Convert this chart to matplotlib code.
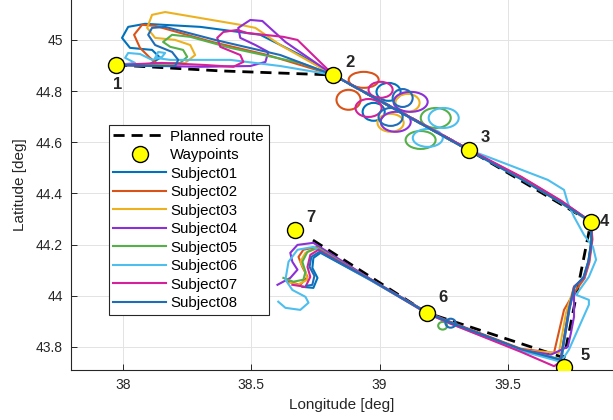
import matplotlib.pyplot as plt
from matplotlib.lines import Line2D
from matplotlib.patches import Ellipse

plt.rcParams['font.family'] = ['Liberation Sans', 'DejaVu Sans']

# waypoints and planned route
waypoint_ids = ['1', '2', '3', '4', '5', '6', '7']
waypoint_lon = [37.973, 38.820, 39.348, 39.824, 39.719, 39.184, 38.672]
waypoint_lat = [44.902, 44.863, 44.570, 44.289, 43.723, 43.934, 44.258]

route_lon = [37.973, 38.379, 38.820, 39.348, 39.824, 39.719, 39.184, 38.738]
route_lat = [44.902, 44.879, 44.863, 44.570, 44.289, 43.758, 43.934, 44.219]

subject_names = ['Subject01', 'Subject02', 'Subject03', 'Subject04',
                 'Subject05', 'Subject06', 'Subject07', 'Subject08']
subject_colors = ['#0072BD', '#D95319', '#EDB120', '#8B2FD6',
                  '#55B04A', '#4DBEEE', '#D4209A', '#1F6DB8']

# recorded tracks (lon, lat)
s01_lon = [37.973, 38.105, 38.145, 38.113, 38.027, 37.996, 38.020, 38.086, 38.301, 38.535, 38.691,
           38.820, 39.348, 39.551, 39.707, 39.822, 39.826, 39.814, 39.795, 39.760, 39.740, 39.717, 39.709,
           39.551, 39.277, 39.186, 38.965,
           38.770, 38.742, 38.738, 38.758, 38.742, 38.699]
s01_lat = [44.902, 44.906, 44.930, 44.961, 44.969, 45.008, 45.051, 45.063, 45.051, 45.020, 44.941,
           44.863, 44.572, 44.459, 44.363, 44.289, 44.215, 44.135, 44.072, 44.035, 43.945, 43.805, 43.748,
           43.791, 43.895, 43.934, 44.061,
           44.168, 44.148, 44.109, 44.070, 44.031, 44.035]
s01_loops = [(39.035, 44.797, 0.094, 0.070), (38.977, 44.719, 0.086, 0.070)]

s02_lon = [37.973, 38.145, 38.105, 38.066, 38.043, 38.074, 38.125, 38.348, 38.563,
           38.820, 39.348, 39.553, 39.709, 39.824, 39.830, 39.818, 39.799, 39.758, 39.719, 39.680,
           39.551, 39.277, 39.184, 38.963,
           38.758, 38.703, 38.684, 38.699, 38.719, 38.691, 38.645]
s02_lat = [44.902, 44.898, 44.930, 44.969, 45.020, 45.059, 45.055, 44.992, 44.941,
           44.863, 44.568, 44.463, 44.369, 44.291, 44.221, 44.131, 44.068, 44.012, 43.945, 43.777,
           43.793, 43.898, 43.936, 44.066,
           44.191, 44.180, 44.152, 44.113, 44.074, 44.043, 44.055]
s02_loops = [(38.938, 44.844, 0.117, 0.0625), (38.879, 44.766, 0.094, 0.078)]

s03_lon = [37.973, 38.105, 38.242, 38.281, 38.262, 38.203, 38.125, 38.094, 38.113, 38.164, 38.457, 38.516, 38.613,
           38.820, 39.348, 39.549, 39.705, 39.824, 39.828, 39.816, 39.797, 39.758, 39.727, 39.699,
           39.551, 39.277, 39.184, 38.965,
           38.762, 38.711, 38.691, 38.711, 38.719, 38.680, 38.652]
s03_lat = [44.902, 44.902, 44.910, 44.941, 44.980, 45.000, 45.008, 45.047, 45.098, 45.109, 45.059, 45.047, 44.980,
           44.863, 44.570, 44.459, 44.365, 44.287, 44.217, 44.133, 44.070, 44.035, 43.934, 43.777,
           43.787, 43.893, 43.932, 44.063,
           44.188, 44.168, 44.133, 44.094, 44.063, 44.043, 44.051]
s03_loops = [(39.109, 44.754, 0.094, 0.070), (39.043, 44.676, 0.102, 0.070)]

s04_lon = [37.973, 38.301, 38.496, 38.555, 38.566, 38.516, 38.457, 38.449, 38.496, 38.543, 38.633,
           38.820, 39.348, 39.551, 39.707, 39.824, 39.828, 39.816, 39.797, 39.758, 39.758, 39.746, 39.734, 39.668,
           39.551, 39.277, 39.184, 38.965,
           38.742, 38.680, 38.652, 38.660, 38.680, 38.652, 38.602]
s04_lat = [44.902, 44.895, 44.898, 44.914, 44.953, 44.980, 45.008, 45.047, 45.078, 45.074, 44.992,
           44.863, 44.570, 44.463, 44.369, 44.289, 44.219, 44.133, 44.070, 44.035, 43.918, 43.855, 43.801, 43.770,
           43.789, 43.897, 43.936, 44.065,
           44.207, 44.199, 44.168, 44.133, 44.102, 44.070, 44.043]
s04_loops = [(39.121, 44.758, 0.133, 0.078), (39.063, 44.680, 0.117, 0.078)]

s05_lon = [37.973, 38.223, 38.250, 38.234, 38.184, 38.156, 38.191, 38.262, 38.418, 38.691,
           38.820, 39.348, 39.551, 39.707, 39.824, 39.826, 39.816, 39.797, 39.758, 39.738, 39.715, 39.707,
           39.551, 39.277, 39.184, 38.965,
           38.758, 38.719, 38.699, 38.711, 38.703, 38.664, 38.625]
s05_lat = [44.902, 44.910, 44.934, 44.961, 44.973, 44.992, 45.020, 45.012, 44.969, 44.910,
           44.863, 44.570, 44.461, 44.367, 44.289, 44.219, 44.133, 44.070, 44.035, 43.945, 43.809, 43.752,
           43.789, 43.895, 43.934, 44.063,
           44.188, 44.172, 44.133, 44.094, 44.063, 44.055, 44.070]
s05_loops = [(39.219, 44.695, 0.117, 0.078), (39.160, 44.609, 0.117, 0.070), (39.246, 43.883, 0.035, 0.030)]

s06_lon = [37.973, 38.047, 38.008, 38.020, 38.066, 38.113, 38.152, 38.164, 38.137, 38.125, 38.184, 38.418, 38.613,
           38.820, 39.348, 39.422, 39.656, 39.719, 39.734, 39.758, 39.797, 39.832, 39.844, 39.816, 39.766,
           39.816, 39.816, 39.785, 39.738, 39.707,
           39.551, 39.277, 39.184, 38.965,
           38.742, 38.680, 38.645, 38.633, 38.660, 38.711, 38.723, 38.691, 38.633, 38.605]
s06_lat = [44.902, 44.910, 44.930, 44.949, 44.945, 44.922, 44.934, 44.949, 44.953, 44.930, 44.922, 44.922, 44.898,
           44.863, 44.570, 44.543, 44.453, 44.414, 44.363, 44.309, 44.238, 44.191, 44.141, 44.074, 44.004,
           43.984, 43.965, 43.895, 43.789, 43.742,
           43.785, 43.891, 43.932, 44.061,
           44.191, 44.180, 44.133, 44.063, 44.023, 43.996, 43.973, 43.945, 43.953, 43.977]
s06_loops = [(39.250, 44.695, 0.117, 0.078), (39.188, 44.617, 0.117, 0.070)]

s07_lon = [37.973, 38.152, 38.320, 38.430, 38.469, 38.457, 38.379, 38.367, 38.391, 38.445, 38.484, 38.625, 38.680,
           38.820, 39.348, 39.553, 39.709, 39.824, 39.828, 39.816, 39.797, 39.758, 39.738, 39.715, 39.703, 39.680,
           39.551, 39.277, 39.184, 38.965,
           38.762, 38.730, 38.719, 38.730, 38.711, 38.660]
s07_lat = [44.902, 44.910, 44.902, 44.895, 44.914, 44.941, 44.973, 45.008, 45.031, 45.039, 45.027, 45.012, 45.000,
           44.863, 44.572, 44.465, 44.371, 44.289, 44.219, 44.133, 44.070, 44.035, 43.945, 43.805, 43.740, 43.725,
           43.781, 43.891, 43.932, 44.063,
           44.180, 44.160, 44.113, 44.074, 44.035, 44.043]
s07_loops = [(39.004, 44.805, 0.094, 0.0625), (38.957, 44.734, 0.102, 0.070)]

s08_lon = [37.973, 38.105, 38.203, 38.215, 38.191, 38.125, 38.098, 38.113, 38.164, 38.359, 38.613,
           38.820, 39.348, 39.549, 39.705, 39.824, 39.826, 39.814, 39.795, 39.760, 39.738, 39.715, 39.707,
           39.551, 39.277, 39.184, 38.965,
           38.766, 38.734, 38.727, 38.746, 38.738, 38.715]
s08_lat = [44.902, 44.898, 44.898, 44.922, 44.953, 44.980, 45.020, 45.047, 45.051, 45.000, 44.941,
           44.863, 44.568, 44.457, 44.365, 44.289, 44.217, 44.135, 44.072, 44.035, 43.945, 43.807, 43.750,
           43.791, 43.895, 43.934, 44.063,
           44.172, 44.152, 44.113, 44.078, 44.043, 44.039]
s08_loops = [(39.090, 44.773, 0.078, 0.070), (39.043, 44.699, 0.094, 0.070), (39.277, 43.893, 0.040, 0.035)]

tracks = [(s01_lon, s01_lat, s01_loops), (s02_lon, s02_lat, s02_loops),
          (s03_lon, s03_lat, s03_loops), (s04_lon, s04_lat, s04_loops),
          (s05_lon, s05_lat, s05_loops), (s06_lon, s06_lat, s06_loops),
          (s07_lon, s07_lat, s07_loops), (s08_lon, s08_lat, s08_loops)]

fig = plt.figure(figsize=(6.13, 4.2), dpi=100)
ax = fig.add_axes([0.1158, 0.119, 0.8842, 0.881])

lw = 1.5
# planned route sits under the tracks
ax.plot(route_lon, route_lat, color='black', lw=2.0, ls=(0, (4, 2.5)), zorder=1.5)
for (lon, lat, loops), color in zip(tracks, subject_colors):
    ax.plot(lon, lat, color=color, lw=lw, solid_joinstyle='round', zorder=2)
    for cx, cy, w, h in loops:
        ax.add_patch(Ellipse((cx, cy), w, h, fill=False, edgecolor=color, lw=lw, zorder=2))

ax.plot(waypoint_lon, waypoint_lat, ls='none', marker='o', ms=11.5,
        mfc='yellow', mec='black', mew=1.0, zorder=4)

label_offsets = [(1, -14), (12, 9), (12, 9), (10, 0), (15, 8), (12, 11), (11, 9)]
for wid, x, y, off in zip(waypoint_ids, waypoint_lon, waypoint_lat, label_offsets):
    ax.annotate(wid, (x, y), xytext=off, textcoords='offset points',
                ha='center', va='center', fontsize=12, fontweight='bold', color='#262626')

ax.set_xlim(37.797, 39.91)
ax.set_ylim(43.71, 45.156)
ax.set_xticks([38, 38.5, 39, 39.5], ['38', '38.5', '39', '39.5'])
ax.set_yticks([43.8, 44, 44.2, 44.4, 44.6, 44.8, 45],
              ['43.8', '44', '44.2', '44.4', '44.6', '44.8', '45'])
ax.tick_params(direction='in', length=4, width=0.7, colors='#262626', labelsize=10, pad=6)
ax.spines['top'].set_visible(False)
ax.spines['right'].set_visible(False)
for side in ['left', 'bottom']:
    ax.spines[side].set_color('#262626')
    ax.spines[side].set_linewidth(0.8)
ax.grid(True, color='#e3e3e3', lw=0.7, zorder=0)
ax.set_axisbelow(True)
ax.set_xlabel('Longitude [deg]', fontsize=11, color='#262626', labelpad=4)
ax.set_ylabel('Latitude [deg]', fontsize=11, color='#262626', labelpad=6)

handles = [Line2D([], [], color='black', lw=2.0, ls=(0, (4, 2.5))),
           Line2D([], [], ls='none', marker='o', ms=11.5, mfc='yellow', mec='black', mew=1.0)]
handles += [Line2D([], [], color=c, lw=lw) for c in subject_colors]
leg = ax.legend(handles, ['Planned route', 'Waypoints'] + subject_names,
                loc='upper left', bbox_to_anchor=(0.070, 0.662), borderaxespad=0,
                fontsize=10.8, handlelength=3.5, handletextpad=0.3, labelspacing=0.3,
                borderpad=0.3, fancybox=False, framealpha=1, edgecolor='#262626')
leg.get_frame().set_linewidth(0.8)

fig.savefig('out.png', dpi=100)
